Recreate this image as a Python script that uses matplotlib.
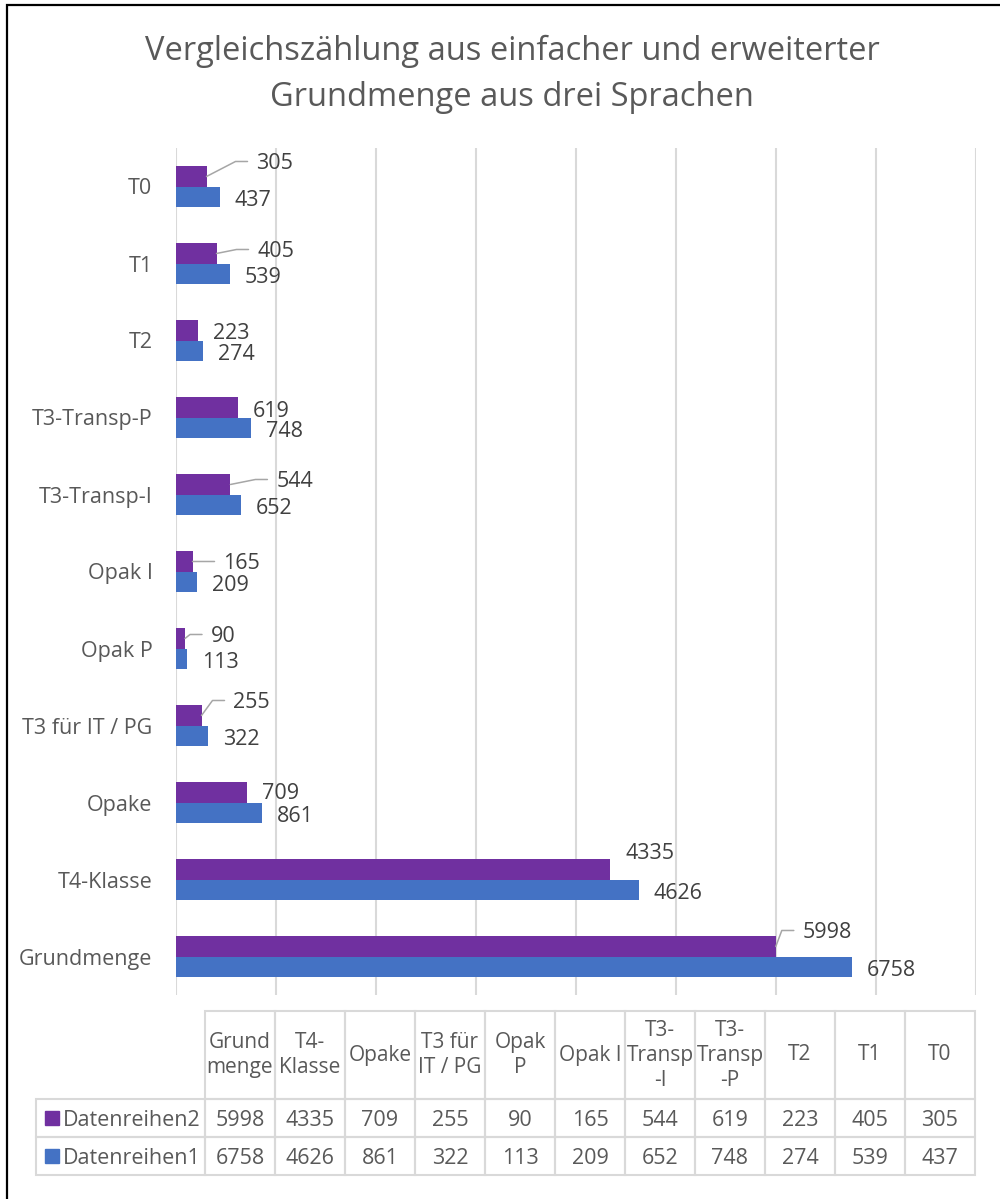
import math

import numpy as np
import matplotlib
matplotlib.use("Agg")
import matplotlib.pyplot as plt
from matplotlib.patches import Rectangle

plt.rcParams["font.family"] = ["Open Sans", "DejaVu Sans"]

# data, in the order of the table (bottom bar first)
CATEGORIES = ["Grundmenge", "T4-Klasse", "Opake", "T3 für IT / PG", "Opak P", "Opak I",
              "T3-Transp-I", "T3-Transp-P", "T2", "T1", "T0"]
TABLE_HEADERS = ["Grund\nmenge", "T4-\nKlasse", "Opake", "T3 für\nIT / PG", "Opak\nP", "Opak I",
                 "T3-\nTransp\n-I", "T3-\nTransp\n-P", "T2", "T1", "T0"]
SERIES2 = [5998, 4335, 709, 255, 90, 165, 544, 619, 223, 405, 305]
SERIES1 = [6758, 4626, 861, 322, 113, 209, 652, 748, 274, 539, 437]
SERIES_NAMES = ["Datenreihen2", "Datenreihen1"]
TITLE_LINES = ["Vergleichszählung aus einfacher und erweiterter",
               "Grundmenge aus drei Sprachen"]

PURPLE = "#7030A0"
BLUE = "#4472C4"
TEXT = "#595959"
LABEL = "#404040"
GRID = "#d9d9d9"
LEADER = "#a6a6a6"

# purple data label placement in pixels (dx right, dy down) and leader-line flag
PURPLE_LABEL_POS = [(27, -16, True), (16, -18, False), (15, -1, False), (32, -15, True),
                    (26, -4, True), (31, 0, True), (46, -5, True), (15, 2, False),
                    (15, 1, False), (41, -4, True), (50, -15, True)]
BLUE_LABEL_POS = (15, 1)

W, H_PX = 1000, 1199
fig = plt.figure(figsize=(W / 100, H_PX / 100), dpi=100)

# frame (only left and top edges are visible in the crop)
fig.add_artist(Rectangle((6.5 / W, -0.1), 2, 1 - 5 / H_PX + 0.1, transform=fig.transFigure,
                         fill=False, ec="black", lw=1.6))

fig.text(0.512, 1 - 51 / H_PX, TITLE_LINES[0], ha="center", va="center", fontsize=23.5, color=TEXT)
fig.text(0.512, 1 - 97 / H_PX, TITLE_LINES[1], ha="center", va="center", fontsize=23.5, color=TEXT)

# ---- bar chart ----
ax = fig.add_axes([176 / W, 1 - 995 / H_PX, 800 / W, 847 / H_PX])
n = len(CATEGORIES)
y = np.arange(n)
bh = 0.26
ax.barh(y + bh / 2, SERIES2, height=bh, color=PURPLE, zorder=3)
ax.barh(y - bh / 2, SERIES1, height=bh, color=BLUE, zorder=3)

ax.set_xlim(0, 8000)
ax.set_ylim(-0.5, n - 0.5)
ax.set_xticks(np.arange(0, 8001, 1000))
ax.set_xticklabels([])
ax.set_yticks(y)
ax.set_yticklabels(CATEGORIES, fontsize=15.5, color=TEXT)
ax.tick_params(length=0, pad=17)
ax.tick_params(axis="x", length=0)
ax.grid(axis="x", color=GRID, lw=1.5, zorder=0)
for s in ax.spines.values():
    s.set_visible(False)

for i, v in enumerate(SERIES2):
    dx, dy, leader = PURPLE_LABEL_POS[i]
    yy = y[i] + bh / 2
    ax.annotate(str(v), xy=(v, yy), xytext=(dx, -dy), textcoords="offset pixels",
                ha="left", va="center_baseline", fontsize=15.5, color=LABEL)
    if leader:
        if dy == 0:
            cs = "arc3"
        else:
            ang = math.degrees(math.atan2(-dy, dx - 21))
            cs = f"angle,angleA=0,angleB={ang},rad=0"
        ax.annotate("", xy=(v, yy), xytext=(dx - 9, -dy), textcoords="offset pixels",
                    arrowprops=dict(arrowstyle="-", color=LEADER, lw=1.1,
                                    shrinkA=0, shrinkB=0, connectionstyle=cs))

for i, v in enumerate(SERIES1):
    ax.annotate(str(v), xy=(v, y[i] - bh / 2), xytext=(BLUE_LABEL_POS[0], -BLUE_LABEL_POS[1]),
                textcoords="offset pixels", ha="left", va="center_baseline",
                fontsize=15.5, color=LABEL)

# ---- data table ----
COL_W = 70.0
LABEL_W = 169 / COL_W
HEAD_H = 88 / 38
tax = fig.add_axes([36 / W, 1 - 1175 / H_PX, 939 / W, 164 / H_PX])
tax.set_xlim(-LABEL_W, n)
tax.set_ylim(HEAD_H + 2, 0)
tax.axis("off")

for i, head in enumerate(TABLE_HEADERS):
    tax.add_patch(Rectangle((i, 0), 1, HEAD_H, fill=False, ec=GRID, lw=1.5, clip_on=False))
    tax.text(i + 0.5, HEAD_H / 2, head, ha="center", va="center", fontsize=15,
             linespacing=1.25, color=TEXT)

for r, (name, vals, col) in enumerate(zip(SERIES_NAMES, [SERIES2, SERIES1], [PURPLE, BLUE])):
    top = HEAD_H + r
    tax.add_patch(Rectangle((-LABEL_W, top), LABEL_W, 1, fill=False, ec=GRID, lw=1.5, clip_on=False))
    tax.add_patch(Rectangle((-LABEL_W + 9 / COL_W, top + 0.5 - 7 / 38), 14 / COL_W, 14 / 38,
                            color=col, clip_on=False))
    tax.text(-LABEL_W + 27 / COL_W, top + 0.5, name, ha="left", va="center_baseline",
             fontsize=15.5, color=TEXT)
    for i, v in enumerate(vals):
        tax.add_patch(Rectangle((i, top), 1, 1, fill=False, ec=GRID, lw=1.5, clip_on=False))
        tax.text(i + 0.5, top + 0.5, str(v), ha="center", va="center_baseline",
                 fontsize=15.5, color=TEXT)

fig.savefig("out.png", dpi=100)
